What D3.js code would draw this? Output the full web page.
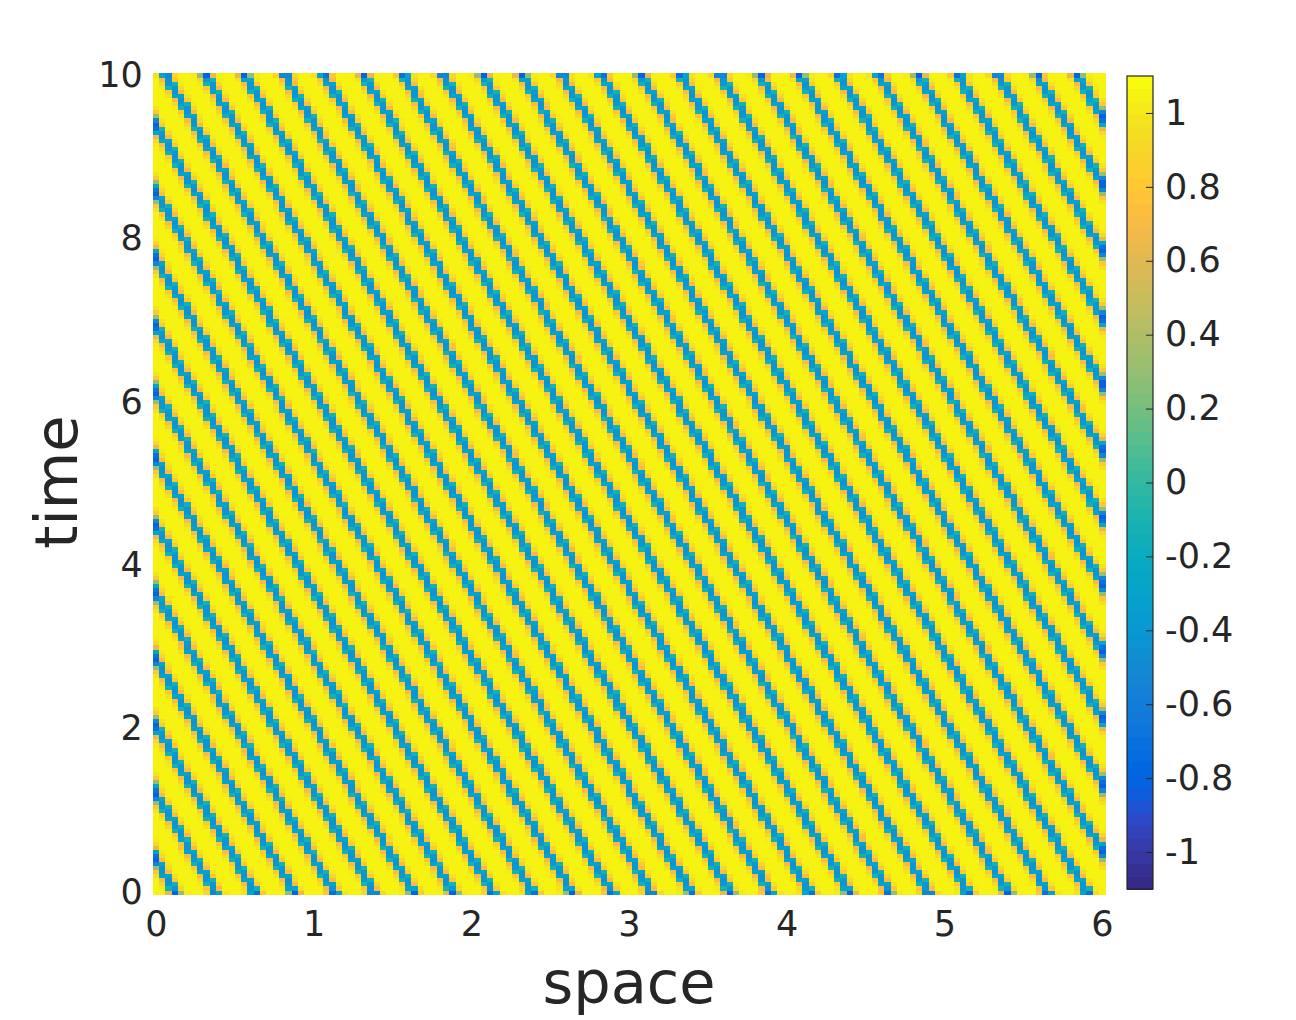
<!DOCTYPE html>
<html>
<head>
<meta charset="utf-8">
<script src="https://cdn.jsdelivr.net/npm/d3@7"></script>
<style>
  body { margin: 0; background: #fff; }
  text { font-family: "DejaVu Sans", sans-serif; fill: #262626; }
</style>
</head>
<body>
<svg id="chart" width="1296" height="1020"></svg>
<script>
// ticks
const xTicks = [0, 1, 2, 3, 4, 5, 6];
const yTicks = [0, 2, 4, 6, 8, 10];
const cbTicks = [-1, -0.8, -0.6, -0.4, -0.2, 0, 0.2, 0.4, 0.6, 0.8, 1];

// value vs distance from a stripe centre (16 steps of 1/32 period, centre first)
const waveProfile = [-0.42, -0.38, -0.3, -0.12, 0.7, 0.8, 0.9, 0.97, 1.02, 1.05, 1.06, 1.06, 1.06, 1.06, 1.06, 1.06];
// same along the boundary rows / columns, where the dips are deeper
const edgeProfile = [-0.8, -0.72, -0.55, -0.3, 0.3, 0.65, 0.8, 0.9, 0.97, 1.0, 1.04, 1.04, 1.04, 1.04, 1.04, 1.04];

// stripe geometry
const wavelength = 0.2513;  // space units between stripes
const waveSpeed = 0.3077;   // stripes drift left by this much per time unit
const waveOffset = 0.125;   // stripe centre position at time 0
const dx = 0.04, dt = 0.05; // grid spacing
const colorLimits = [-1.1, 1.1];

const parula = [
  [0.2081,0.1663,0.5292],[0.2116,0.1898,0.5777],[0.2123,0.2138,0.6270],[0.2081,0.2386,0.6771],
  [0.1959,0.2645,0.7279],[0.1707,0.2919,0.7792],[0.1253,0.3242,0.8303],[0.0591,0.3598,0.8683],
  [0.0117,0.3875,0.8820],[0.0060,0.4086,0.8828],[0.0165,0.4266,0.8786],[0.0329,0.4430,0.8720],
  [0.0498,0.4586,0.8641],[0.0629,0.4737,0.8554],[0.0723,0.4887,0.8467],[0.0779,0.5040,0.8384],
  [0.0793,0.5200,0.8312],[0.0749,0.5375,0.8263],[0.0641,0.5570,0.8240],[0.0488,0.5772,0.8228],
  [0.0343,0.5966,0.8199],[0.0265,0.6137,0.8135],[0.0239,0.6287,0.8038],[0.0231,0.6418,0.7913],
  [0.0228,0.6535,0.7768],[0.0267,0.6642,0.7607],[0.0384,0.6743,0.7436],[0.0590,0.6838,0.7254],
  [0.0843,0.6928,0.7062],[0.1133,0.7015,0.6859],[0.1453,0.7098,0.6646],[0.1801,0.7177,0.6424],
  [0.2178,0.7250,0.6193],[0.2586,0.7317,0.5954],[0.3022,0.7376,0.5712],[0.3482,0.7424,0.5473],
  [0.3953,0.7459,0.5244],[0.4420,0.7481,0.5033],[0.4871,0.7491,0.4840],[0.5300,0.7491,0.4661],
  [0.5709,0.7485,0.4494],[0.6099,0.7473,0.4337],[0.6473,0.7456,0.4188],[0.6834,0.7435,0.4044],
  [0.7184,0.7411,0.3905],[0.7525,0.7384,0.3768],[0.7858,0.7356,0.3633],[0.8185,0.7327,0.3498],
  [0.8507,0.7299,0.3360],[0.8824,0.7274,0.3217],[0.9139,0.7258,0.3063],[0.9450,0.7261,0.2886],
  [0.9739,0.7314,0.2666],[0.9938,0.7455,0.2403],[0.9990,0.7653,0.2164],[0.9955,0.7861,0.1967],
  [0.9880,0.8066,0.1794],[0.9789,0.8271,0.1633],[0.9697,0.8481,0.1475],[0.9626,0.8705,0.1309],
  [0.9589,0.8949,0.1132],[0.9598,0.9218,0.0948],[0.9661,0.9514,0.0755],[0.9763,0.9831,0.0538]
].map(c => d3.rgb(c[0] * 255, c[1] * 255, c[2] * 255).formatHex());

const svg = d3.select('#chart');

const x = d3.scaleLinear().domain([0, 6]).range([156, 1102]);
const y = d3.scaleLinear().domain([0, 10]).range([892, 75]);
const color = d3.scaleQuantize().domain(colorLimits).range(parula);

// build the grid
const xs = d3.range(0, 6 + 1e-9, dx);
const ts = d3.range(0, 10 + 1e-9, dt);
const cells = [];
ts.forEach((t, j) => {
    xs.forEach((xv, i) => {
        let p = ((xv - waveOffset + waveSpeed * t) / wavelength) % 1;
        if (p < 0) p += 1;
        const d = Math.min(p, 1 - p);
        const bin = Math.min(15, Math.floor(d * 32));
        const edge = i === 0 || i === xs.length - 1 || j === 0 || j === ts.length - 1;
        cells.push({ x: xv, t: t, v: edge ? edgeProfile[bin] : waveProfile[bin] });
    });
});

const cw = x(dx) - x(0);
const ch = y(0) - y(dt);

svg.append('g')
    .selectAll('rect')
    .data(cells)
    .enter().append('rect')
    .attr('x', d => x(d.x) - cw / 2)
    .attr('y', d => y(d.t) - ch / 2)
    .attr('width', cw + 0.6)
    .attr('height', ch + 0.6)
    .attr('shape-rendering', 'crispEdges')
    .attr('fill', d => color(d.v));

// axes
const xAxis = svg.append('g')
    .attr('transform', `translate(0,${y(0) + ch / 2})`)
    .call(d3.axisBottom(x).tickValues(xTicks).tickSize(0).tickPadding(17).tickFormat(d => String(d)));
xAxis.select('.domain').remove();
xAxis.selectAll('text').style('font-size', '35px').style('fill', '#262626');

const yAxis = svg.append('g')
    .attr('transform', `translate(${x(0) - cw / 2},0)`)
    .call(d3.axisLeft(y).tickValues(yTicks).tickSize(0).tickPadding(10).tickFormat(d => String(d)));
yAxis.select('.domain').remove();
yAxis.selectAll('text').style('font-size', '35px').style('fill', '#262626');

svg.append('text')
    .attr('x', 629)
    .attr('y', 1003)
    .attr('text-anchor', 'middle')
    .style('font-size', '59px')
    .text('space');

svg.append('text')
    .attr('transform', 'translate(77,482) rotate(-90)')
    .attr('text-anchor', 'middle')
    .style('font-size', '59px')
    .text('time');

// colorbar
const cb = d3.scaleLinear().domain(colorLimits).range([889, 76]);
const cbX = 1127, cbW = 26;
const step = (colorLimits[1] - colorLimits[0]) / parula.length;

svg.append('g')
    .selectAll('rect')
    .data(parula)
    .enter().append('rect')
    .attr('x', cbX)
    .attr('y', (c, i) => cb(colorLimits[0] + (i + 1) * step))
    .attr('width', cbW)
    .attr('height', cb(0) - cb(step) + 0.5)
    .attr('shape-rendering', 'crispEdges')
    .attr('fill', c => c);

svg.append('rect')
    .attr('x', cbX)
    .attr('y', cb(colorLimits[1]))
    .attr('width', cbW)
    .attr('height', cb(colorLimits[0]) - cb(colorLimits[1]))
    .attr('fill', 'none')
    .attr('stroke', '#262626')
    .attr('stroke-width', 1.2);

const cAxis = svg.append('g')
    .attr('transform', `translate(${cbX + cbW},0)`)
    .call(d3.axisRight(cb).tickValues(cbTicks).tickSizeInner(-7).tickSizeOuter(0).tickPadding(12).tickFormat(d => String(d)));
cAxis.select('.domain').remove();
cAxis.selectAll('line').attr('stroke', '#262626');
cAxis.selectAll('text').style('font-size', '35px').style('fill', '#262626');
</script>
</body>
</html>
